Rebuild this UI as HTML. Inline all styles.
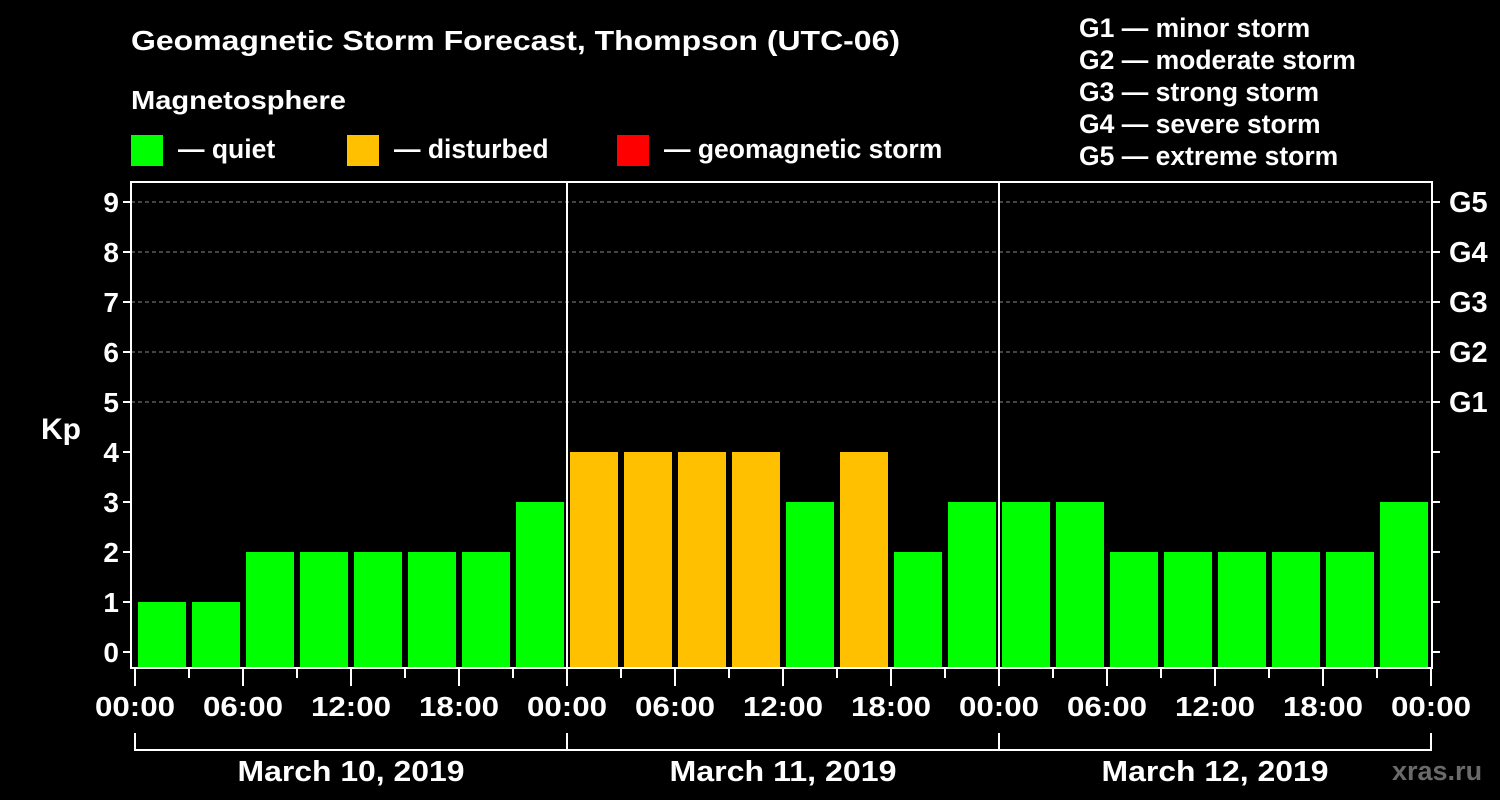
<!DOCTYPE html>
<html><head><meta charset="utf-8"><style>
body{margin:0;background:#000;}
svg{display:block;font-family:"Liberation Sans",sans-serif;font-weight:bold;fill:#fff;}
</style></head><body>
<svg id="c" width="1500" height="800">
<rect width="1500" height="800" fill="#000"/>
<text x="131" y="50" font-size="28" textLength="769" lengthAdjust="spacingAndGlyphs">Geomagnetic Storm Forecast, Thompson (UTC-06)</text>
<text x="131" y="109" font-size="26" textLength="215" lengthAdjust="spacingAndGlyphs">Magnetosphere</text>
<rect x="131" y="135" width="32" height="31" fill="#00ff00"/>
<text x="178" y="158" font-size="26.5">— quiet</text>
<rect x="347" y="135" width="32" height="31" fill="#ffc000"/>
<text x="394" y="158" font-size="26.5">— disturbed</text>
<rect x="617" y="135" width="32" height="31" fill="#ff0000"/>
<text x="664" y="158" font-size="26.5">— geomagnetic storm</text>
<g font-size="26.5">
<text x="1079" y="37">G1 — minor storm</text>
<text x="1079" y="69">G2 — moderate storm</text>
<text x="1079" y="101">G3 — strong storm</text>
<text x="1079" y="133">G4 — severe storm</text>
<text x="1079" y="165">G5 — extreme storm</text>
</g>
<text x="41" y="439" font-size="30">Kp</text>
<text x="1392" y="780" font-size="27" style="fill:#6a6a6a">xras.ru</text>
<g id="g"></g>
</svg>
<script>
const values=[1,1,2,2,2,2,2,3, 4,4,4,4,3,4,2,3, 3,3,2,2,2,2,2,3];
const dayLabels=["March 10, 2019","March 11, 2019","March 12, 2019"];
const timeLabels=["00:00","06:00","12:00","18:00"];
const yTicks=[0,1,2,3,4,5,6,7,8,9];
const gLabels=["G1","G2","G3","G4","G5"];
const NS="http://www.w3.org/2000/svg",g=document.getElementById('g');
function mk(t,a,txt){const e=document.createElementNS(NS,t);for(const k in a)e.setAttribute(k,a[k]);if(txt!==undefined)e.textContent=txt;g.appendChild(e);return e;}
const x=i=>135+54*i, y=v=>652-50*v, L=131,R=1432,T=182,B=668;
for(let v=5;v<=9;v++){const e=mk('line',{x1:L,x2:R,y1:y(v),y2:y(v),stroke:'#888','stroke-dasharray':'4,3','stroke-width':1});

}
values.forEach((v,i)=>{const e=mk('rect',{x:x(i)+3,y:y(v),width:48,height:B-y(v),fill:v>=5?'#ff0000':v>=4?'#ffc000':'#00ff00'});

});
for(let d=1;d<3;d++){const e=mk('line',{x1:x(d*8),x2:x(d*8),y1:T,y2:B,stroke:'#fff','stroke-width':2});

}
const f=mk('rect',{x:L,y:T,width:R-L,height:B-T,fill:'none',stroke:'#fff','stroke-width':2});


yTicks.forEach(v=>{mk('line',{x1:L-8,x2:L,y1:y(v),y2:y(v),stroke:'#fff','stroke-width':2});
mk('line',{x1:R,x2:R+8,y1:y(v),y2:y(v),stroke:'#fff','stroke-width':2});
const t=mk('text',{x:L-12,y:y(v)+10,'font-size':28,'text-anchor':'end'},String(v));

});
gLabels.forEach((s,i)=>{const t=mk('text',{x:1449,y:y(5+i)+10,'font-size':29},s);

});
for(let i=0;i<=24;i++){const maj=i%2==0;mk('line',{x1:x(i),x2:x(i),y1:B,y2:B+(maj?18:10),stroke:'#fff','stroke-width':2});
if(maj){const t=mk('text',{x:x(i),y:716,'font-size':28,'text-anchor':'middle',textLength:80,lengthAdjust:'spacingAndGlyphs'},timeLabels[(i/2)%4]);

}}
mk('polyline',{points:`${x(0)},733 ${x(0)},750 ${x(24)},750 ${x(24)},733`,fill:'none',stroke:'#fff','stroke-width':2});
dayLabels.forEach((s,d)=>{mk('line',{x1:x(d*8),x2:x(d*8),y1:733,y2:750,stroke:'#fff','stroke-width':2});
const t=mk('text',{x:x(d*8+4),y:781,'font-size':29,'text-anchor':'middle',textLength:227,lengthAdjust:'spacingAndGlyphs'},s);

});
</script>
</body></html>
